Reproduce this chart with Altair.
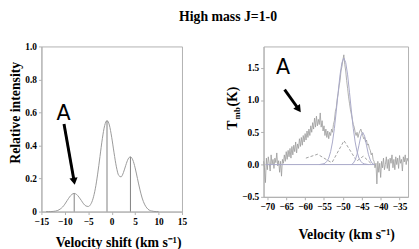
import altair as alt
import pandas as pd
import numpy as np

SERIF = "Liberation Serif"

# ---------------- Left panel: hyperfine profile ----------------
left_v = [-14, -13.5, -13, -12.5, -12, -11.5, -11, -10.5, -10, -9.5, -9, -8.5, -8,
          -7.5, -7, -6.5, -6, -5.5, -5, -4.5, -4, -3.5, -3, -2.5, -2, -1.5, -1, -0.5,
          0, 0.5, 1, 1.5, 2, 2.5, 3, 3.5, 4, 4.5, 5, 5.5, 6, 6.5, 7, 7.5, 8, 8.5, 9, 9.5, 10]
left_i = [0.0, 0.0, 0.0, 0.001, 0.003, 0.007, 0.015, 0.027, 0.045, 0.067, 0.088, 0.104, 0.110,
          0.104, 0.088, 0.068, 0.047, 0.034, 0.031, 0.043, 0.077, 0.138, 0.227, 0.334, 0.441, 0.521, 0.551, 0.524,
          0.450, 0.356, 0.271, 0.219, 0.210, 0.236, 0.280, 0.318, 0.332, 0.313, 0.265, 0.200, 0.136, 0.082,
          0.045, 0.022, 0.009, 0.004, 0.001, 0.0, 0.0]
comp_v = [-8, -1, 4]
comp_h = [0.11, 0.55, 0.33]
comp_lo = [0, 0, 0]
left_x_ticks = [-15, -10, -5, 0, 5, 10, 15]
left_y_ticks = [0, 0.2, 0.4, 0.6, 0.8, 1.0]

# annotation (data units)
left_label = ["A"]
left_label_v = [-10.28]
left_label_i = [0.59]
left_arrow_v = [-10.18]
left_arrow_i = [0.53]
left_head_v = [-8.02]
left_head_i = [0.183]
left_head_angle = [350]

# ---------------- Right panel: observed spectrum ----------------
spec_start = -71.0
spec_step = 0.25
spec_t = [0.05, -0.05, -0.28, 0.10, -0.08, 0.12, 0.02, -0.10, 0.15, 0.00, 0.08, -0.06, 0.10, 0.03, 0.18,
          -0.02, 0.06, -0.12, 0.05, -0.18, 0.08,
          0.02, 0.15, 0.05, 0.20, 0.08, 0.22, 0.12, 0.25, 0.10, 0.28, 0.15, 0.30, 0.20, 0.35, 0.18, 0.32,
          0.25, 0.40, 0.28, 0.42, 0.30, 0.45, 0.35, 0.48,
          0.38, 0.52, 0.42, 0.55, 0.45, 0.60, 0.50, 0.65, 0.55, 0.72, 0.58, 0.75, 0.60, 0.70, 0.62, 0.80,
          0.58, 0.68, 0.52, 0.60, 0.45, 0.55, 0.42, 0.52, 0.40, 0.50, 0.45, 0.55,
          0.50, 0.62, 0.68, 0.82, 0.88, 1.02, 1.10, 1.22, 1.30, 1.45, 1.52, 1.62, 1.70, 1.55, 1.45, 1.30,
          1.18, 1.05, 0.95, 0.85, 0.78, 0.70, 0.62, 0.58,
          0.50, 0.45, 0.50, 0.42, 0.48, 0.52, 0.55, 0.50, 0.45, 0.40, 0.42, 0.35, 0.38, 0.30, 0.32, 0.25,
          0.22, 0.15, 0.18, 0.08, 0.05, -0.05, 0.02, -0.30,
          0.05, -0.12, 0.02, -0.20, 0.05, -0.05, 0.10, -0.08, 0.00, 0.12, -0.06, 0.08, -0.10, 0.10, 0.02, 0.15,
          -0.05, 0.08, -0.08, 0.12, 0.00, 0.10, -0.06, 0.14, 0.02, 0.08, -0.10, 0.12, 0.04, 0.15, 0.00, 0.10, 0.05]
spec_v = [spec_start + spec_step * k for k in range(len(spec_t))]

fit1_v = [-56.25, -55.25, -54.75, -54.25, -53.75, -53.25, -52.75, -52.25, -51.75, -51.25, -50.75, -50.25,
          -49.75, -49.25, -48.75, -48.25, -47.75, -47.25, -46.75, -46.25, -45.75, -45.25, -44.75, -44.25, -43.25]
fit1_t = [0.0, 0.01, 0.02, 0.05, 0.10, 0.20, 0.35, 0.56, 0.83, 1.12, 1.39, 1.58,
          1.65, 1.58, 1.39, 1.12, 0.83, 0.56, 0.35, 0.20, 0.10, 0.05, 0.02, 0.01, 0.0]
fit2_v = [-47.75, -47.25, -46.75, -46.25, -45.75, -45.25, -44.75, -44.25, -43.75, -43.25, -42.75, -42.25, -41.75]
fit2_t = [0.0, 0.02, 0.07, 0.16, 0.30, 0.44, 0.50, 0.44, 0.30, 0.16, 0.07, 0.02, 0.0]
base_v = [-70.5, -41.5]
base_t = [0.0, 0.0]

dash1_v = [-59.8, -56.7, -53.0]
dash1_t = [0.10, 0.16, 0.03]
dash2_v = [-52.8, -49.7, -46.6]
dash2_t = [0.04, 0.37, 0.08]
dash3_v = [-46.2, -44.6, -42.6]
dash3_t = [0.06, 0.13, 0.02]

right_x_ticks = [-70, -65, -60, -55, -50, -45, -40, -35]
right_y_ticks = [-0.5, 0.0, 0.5, 1.0, 1.5]

right_label = ["A"]
right_label_v = [-65.87]
right_label_t = [1.50]
right_arrow_v = [-65.43]
right_arrow_t = [1.16]
right_head_v = [-61.7]
right_head_t = [0.857]
right_head_angle = [324.5]

# ---------- shared scales / axes ----------
lab = dict(labelFont=SERIF, labelFontWeight="bold", labelFontSize=9.5, labelColor="black", labelOverlap=False)
lx = alt.Scale(domain=[-15, 15], nice=False, zero=False)
ly = alt.Scale(domain=[0, 1], nice=False)
lx_axis = alt.Axis(values=left_x_ticks, title="Velocity shift (km s\u207b\u00b9)", titlePadding=10, titleX=78, **lab)
ly_axis = alt.Axis(values=left_y_ticks, title="Relative intensity", titlePadding=2, titleY=67,
                   labelExpr="datum.value == 0 ? '0' : format(datum.value, '.1f')", **lab)

rx = alt.Scale(domain=[-71, -32.75], nice=False, zero=False)
ry = alt.Scale(domain=[-0.5, 1.83], nice=False, zero=False)
rx_axis = alt.Axis(values=right_x_ticks, title="Velocity (km s\u207b\u00b9)", titlePadding=17, titleX=84, **lab)
ry_axis = alt.Axis(values=right_y_ticks, title=None, format=".1f", **lab)


def LX(f):
    return alt.X(f, type="quantitative", scale=lx, axis=lx_axis)


def LY(f):
    return alt.Y(f, type="quantitative", scale=ly, axis=ly_axis)


def RX(f):
    return alt.X(f, type="quantitative", scale=rx, axis=rx_axis)


def RY(f):
    return alt.Y(f, type="quantitative", scale=ry, axis=ry_axis)


# ---------- left chart ----------
left_df = pd.DataFrame({"v": left_v, "i": left_i})
curve = alt.Chart(left_df).mark_line(color="#999999", strokeWidth=1, interpolate="monotone").encode(
    x=LX("v"), y=LY("i"))
rules = alt.Chart(pd.DataFrame({"v": comp_v, "lo": comp_lo, "hi": comp_h})).mark_rule(
    color="#808080", strokeWidth=1).encode(x=LX("v"), y=LY("lo"), y2="hi:Q")

lann = pd.DataFrame({"t": left_label, "v": left_label_v, "i": left_label_i,
                     "v0": left_arrow_v, "i0": left_arrow_i, "v1": left_head_v, "i1": left_head_i,
                     "ang": left_head_angle})
l_text = alt.Chart(lann).mark_text(font="DejaVu Sans", fontSize=21, color="black", baseline="middle").encode(
    x=LX("v"), y=LY("i"), text="t:N")
l_shaft = alt.Chart(lann).mark_rule(color="black", strokeWidth=3).encode(
    x=LX("v0"), y=LY("i0"), x2="v1:Q", y2="i1:Q")
l_head = alt.Chart(lann).mark_point(shape="triangle-down", filled=True, color="black", size=70, opacity=1).encode(
    x=LX("v1"), y=LY("i1"), angle=alt.Angle("ang:Q", scale=None))

left = alt.layer(curve, rules, l_shaft, l_head, l_text).properties(width=143, height=168)

# ---------- right chart ----------
spec = alt.Chart(pd.DataFrame({"v": spec_v, "t": spec_t})).mark_line(color="#9a9a9a", strokeWidth=0.8).encode(
    x=RX("v"), y=RY("t"))


def fitline(vs, ts, color, dash=None):
    kw = dict(color=color, strokeWidth=1)
    if dash:
        kw["strokeDash"] = dash
    return alt.Chart(pd.DataFrame({"v": vs, "t": ts})).mark_line(**kw).encode(x=RX("v"), y=RY("t"))


fit_color = "#a8a8c8"
f_base = fitline(base_v, base_t, fit_color)
f1 = fitline(fit1_v, fit1_t, fit_color)
f2 = fitline(fit2_v, fit2_t, fit_color)
d1 = fitline(dash1_v, dash1_t, "#a0a0a0", [3, 2])
d2 = fitline(dash2_v, dash2_t, "#a0a0a0", [3, 2])
d3 = fitline(dash3_v, dash3_t, "#a0a0a0", [3, 2])

rann = pd.DataFrame({"t": right_label, "v": right_label_v, "y": right_label_t,
                     "v0": right_arrow_v, "y0": right_arrow_t, "v1": right_head_v, "y1": right_head_t,
                     "ang": right_head_angle})
r_text = alt.Chart(rann).mark_text(font="DejaVu Sans", fontSize=21, color="black", baseline="middle").encode(
    x=RX("v"), y=RY("y"), text="t:N")
r_shaft = alt.Chart(rann).mark_rule(color="black", strokeWidth=3).encode(
    x=RX("v0"), y=RY("y0"), x2="v1:Q", y2="y1:Q")
r_head = alt.Chart(rann).mark_point(shape="triangle-down", filled=True, color="black", size=70, opacity=1).encode(
    x=RX("v1"), y=RY("y1"), angle=alt.Angle("ang:Q", scale=None))

# y-axis title "T_mb(K)" built from rotated text pieces
ytitle_parts = ["T", "mb", "(K)"]
ytitle_sizes = [14, 9, 14]
ytitle_x = [-31, -27, -31]
ytitle_y = [80, 68, 51]
yt_layers = []
for txt, fs, px, py in zip(ytitle_parts, ytitle_sizes, ytitle_x, ytitle_y):
    yt_layers.append(
        alt.Chart(pd.DataFrame({"s": [txt]})).mark_text(
            font=SERIF, fontWeight="bold", fontSize=fs, angle=270, align="center", baseline="middle",
            color="black").encode(text="s:N", x=alt.value(px), y=alt.value(py))
    )

right = alt.layer(spec, f_base, d1, d2, d3, f1, f2, r_shaft, r_head, r_text, *yt_layers).properties(
    width=147, height=153, title=alt.TitleParams(" ", fontSize=10, offset=0))

chart = alt.hconcat(left, right, spacing=38).properties(
    title=alt.TitleParams("High mass J=1-0", font=SERIF, fontWeight="bold", fontSize=14, color="black",
                          offset=12, dx=19, anchor="middle"),
    padding=0,
).configure_view(stroke="#b0b0b0", strokeWidth=1).configure_title(font=SERIF).configure_axis(
    labelFont=SERIF, labelFontWeight="bold", labelFontSize=9.5, labelColor="black",
    labelOverlap=False, labelFlush=False, labelBound=False,
    titleFont=SERIF, titleFontWeight="bold", titleFontSize=14, titleColor="black",
    domainColor="#b0b0b0", tickColor="#b0b0b0", tickSize=3, labelPadding=2, grid=False)

chart.save("out.html", embed_options={"renderer": "svg", "actions": False})
